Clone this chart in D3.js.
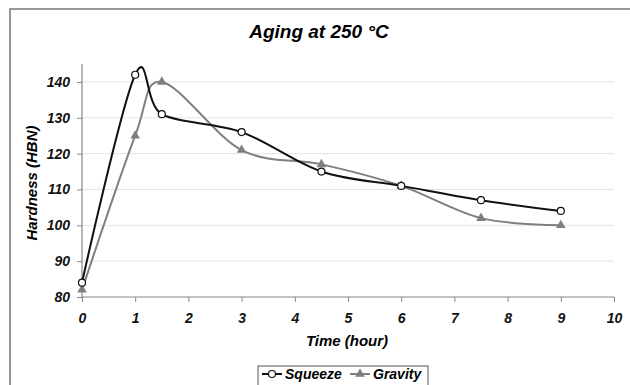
<!DOCTYPE html>
<html>
<head>
<meta charset="utf-8">
<script src="https://cdn.jsdelivr.net/npm/d3@7"></script>
<style>
  body { margin: 0; background: #fff; }
  text { font-family: "Liberation Sans", Arial, sans-serif; font-weight: bold; font-style: italic; }
</style>
</head>
<body>
<svg id="chart" width="630" height="385"></svg>
<script>
// data
const hours = [0, 1, 1.5, 3, 4.5, 6, 7.5, 9];
const squeeze = [84, 142, 131, 126, 115, 111, 107, 104];
const gravity = [82, 125, 140, 121, 117, 111, 102, 100];
const xTicks = [0, 1, 2, 3, 4, 5, 6, 7, 8, 9, 10];
const yTicks = [80, 90, 100, 110, 120, 130, 140];

svg = d3.select("#chart");

// outer frame (cut off at right and bottom like the picture)
svg.append("rect")
  .attr("x", 10).attr("y", 9)
  .attr("width", 640).attr("height", 400)
  .attr("fill", "#fff")
  .attr("stroke", "#777")
  .attr("stroke-width", 1.5);

const xScale = d3.scaleLinear().domain([0, 10]).range([82, 614]);
const yScale = d3.scaleLinear().domain([80, 145]).range([297, 64]);

// gridlines
svg.append("g")
  .selectAll("line")
  .data(yTicks.slice(1))
  .enter()
  .append("line")
  .attr("x1", xScale(0)).attr("x2", xScale(10))
  .attr("y1", d => yScale(d)).attr("y2", d => yScale(d))
  .attr("stroke", "#e4e4e4")
  .attr("stroke-width", 1);

// axes
const xAxis = d3.axisBottom(xScale).tickValues(xTicks).tickSize(5).tickPadding(11).tickFormat(d3.format("d"));
const yAxis = d3.axisLeft(yScale).tickValues(yTicks).tickSize(5).tickPadding(7);

const gx = svg.append("g").attr("transform", `translate(0, ${yScale(80)})`).call(xAxis);
const gy = svg.append("g").attr("transform", `translate(${xScale(0)}, 0)`).call(yAxis);

[gx, gy].forEach(g => {
  g.select(".domain").attr("stroke", "#888").attr("stroke-width", 1.2);
  g.selectAll(".tick line").attr("stroke", "#888");
  g.selectAll(".tick text")
    .attr("fill", "#111")
    .style("font-size", "14px")
    .style("font-family", "'Liberation Sans', Arial, sans-serif")
    .style("font-weight", "bold")
    .style("font-style", "italic");
});
gy.select(".domain").attr("d", `M-0,${yScale(145)}V${yScale(80)}`);
gx.select(".domain").attr("d", `M${xScale(0)},0H${xScale(10)}`);

// smoothed lines, Excel style
const line = d3.line()
  .x(d => xScale(d[0]))
  .y(d => yScale(d[1]))
  .curve(d3.curveCardinal.tension(0));

const gravityPts = hours.map((h, i) => [h, gravity[i]]);
const squeezePts = hours.map((h, i) => [h, squeeze[i]]);

svg.append("path")
  .datum(gravityPts)
  .attr("fill", "none")
  .attr("stroke", "#7f7f7f")
  .attr("stroke-width", 2)
  .attr("d", line);

svg.append("path")
  .datum(squeezePts)
  .attr("fill", "none")
  .attr("stroke", "#111")
  .attr("stroke-width", 2)
  .attr("d", line);

const tri = d3.symbol().type(d3.symbolTriangle).size(40);

svg.append("g")
  .selectAll("path")
  .data(gravityPts)
  .enter()
  .append("path")
  .attr("transform", d => `translate(${xScale(d[0])}, ${yScale(d[1])})`)
  .attr("d", tri)
  .attr("fill", "#7f7f7f");

svg.append("g")
  .selectAll("circle")
  .data(squeezePts)
  .enter()
  .append("circle")
  .attr("cx", d => xScale(d[0]))
  .attr("cy", d => yScale(d[1]))
  .attr("r", 3.5)
  .attr("fill", "#fff")
  .attr("stroke", "#111")
  .attr("stroke-width", 1.2);

// title and axis labels
svg.append("text")
  .attr("x", 319).attr("y", 38)
  .attr("text-anchor", "middle")
  .style("font-size", "19px")
  .text("Aging at 250 °C");

svg.append("text")
  .attr("transform", "translate(37, 183) rotate(-90)")
  .attr("text-anchor", "middle")
  .style("font-size", "15px")
  .text("Hardness (HBN)");

svg.append("text")
  .attr("x", 347).attr("y", 346)
  .attr("text-anchor", "middle")
  .style("font-size", "15px")
  .text("Time (hour)");

// legend
const legend = svg.append("g").attr("transform", "translate(258, 366)");
legend.append("rect")
  .attr("width", 170).attr("height", 22)
  .attr("fill", "#fff")
  .attr("stroke", "#555")
  .attr("stroke-width", 1);

legend.append("line").attr("x1", 4).attr("x2", 24).attr("y1", 8).attr("y2", 8)
  .attr("stroke", "#111").attr("stroke-width", 2);
legend.append("circle").attr("cx", 14).attr("cy", 8).attr("r", 3.5)
  .attr("fill", "#fff").attr("stroke", "#111").attr("stroke-width", 1.2);
legend.append("text").attr("x", 27).attr("y", 13).style("font-size", "14px").text("Squeeze");

legend.append("line").attr("x1", 92).attr("x2", 112).attr("y1", 8).attr("y2", 8)
  .attr("stroke", "#7f7f7f").attr("stroke-width", 2);
legend.append("path").attr("transform", "translate(102, 8)").attr("d", tri).attr("fill", "#7f7f7f");
legend.append("text").attr("x", 115).attr("y", 13).style("font-size", "14px").text("Gravity");
</script>
</body>
</html>
